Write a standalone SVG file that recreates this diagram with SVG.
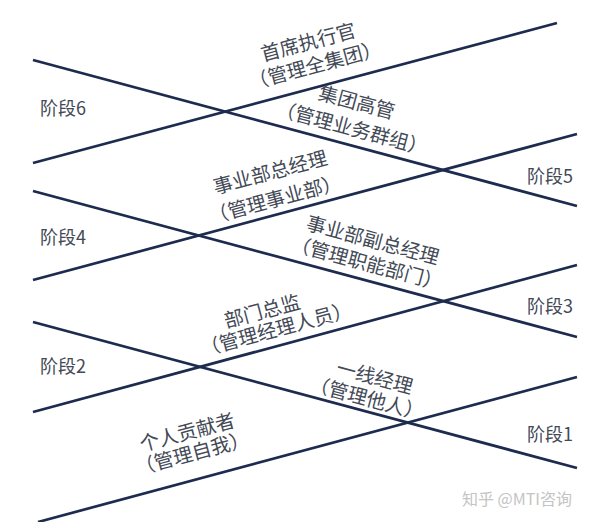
<svg xmlns="http://www.w3.org/2000/svg" width="600" height="522" viewBox="0 0 600 522">
<style>
.ln{stroke:#1d2b4f;stroke-width:2.7;fill:none;stroke-linecap:butt}
text{font-family:"Noto Sans CJK SC","Liberation Sans",sans-serif;fill:#434a56;font-weight:400}
.st{font-size:18px}
.lb{font-size:19.5px;text-anchor:middle}
.wm{font-size:16px;fill:#c4c4c4}
</style>
<rect width="600" height="522" fill="#ffffff"/>
<g id="connectors">
<line class="ln" x1="33" y1="60" x2="577" y2="206"/>
<line class="ln" x1="33" y1="163" x2="557" y2="23"/>
<line class="ln" x1="33" y1="191" x2="577" y2="337"/>
<line class="ln" x1="33" y1="280" x2="577" y2="134"/>
<line class="ln" x1="33" y1="322" x2="577" y2="468"/>
<line class="ln" x1="33" y1="412" x2="577" y2="265"/>
<line class="ln" x1="38" y1="522" x2="577" y2="377"/>
</g>
<g id="stage6"><text class="st" x="40" y="115">阶段6</text></g>
<g id="stage5"><text class="st" x="527" y="183">阶段5</text></g>
<g id="stage4"><text class="st" x="40" y="244">阶段4</text></g>
<g id="stage3"><text class="st" x="527" y="313">阶段3</text></g>
<g id="stage2"><text class="st" x="40" y="373">阶段2</text></g>
<g id="stage1"><text class="st" x="527" y="441">阶段1</text></g>
<g id="ceo">
<text class="lb" transform="translate(310,49) rotate(-15)">首席执行官</text>
<text class="lb" transform="translate(317,72) rotate(-15)">（管理全集团）</text>
</g>
<g id="group-exec">
<text class="lb" transform="translate(355,109) rotate(15)">集团高管</text>
<text class="lb" transform="translate(350,135) rotate(15)">（管理业务群组）</text>
</g>
<g id="bu-gm">
<text class="lb" transform="translate(272,179) rotate(-15)">事业部总经理</text>
<text class="lb" transform="translate(277,206) rotate(-15)">（管理事业部）</text>
</g>
<g id="bu-deputy">
<text class="lb" transform="translate(371,247) rotate(15)">事业部副总经理</text>
<text class="lb" transform="translate(365,270) rotate(15)">（管理职能部门）</text>
</g>
<g id="dept-director">
<text class="lb" transform="translate(264,318) rotate(-15)">部门总监</text>
<text class="lb" transform="translate(278,336) rotate(-15)">（管理经理人员）</text>
</g>
<g id="line-manager">
<text class="lb" transform="translate(373,384) rotate(15)">一线经理</text>
<text class="lb" transform="translate(365,405) rotate(15)">（管理他人）</text>
</g>
<g id="individual">
<text class="lb" transform="translate(189,439) rotate(-15)">个人贡献者</text>
<text class="lb" transform="translate(194,460) rotate(-15)">（管理自我）</text>
</g>
<g id="watermark"><text class="wm" x="462" y="505">知乎 @MTI咨询</text></g>
</svg>
